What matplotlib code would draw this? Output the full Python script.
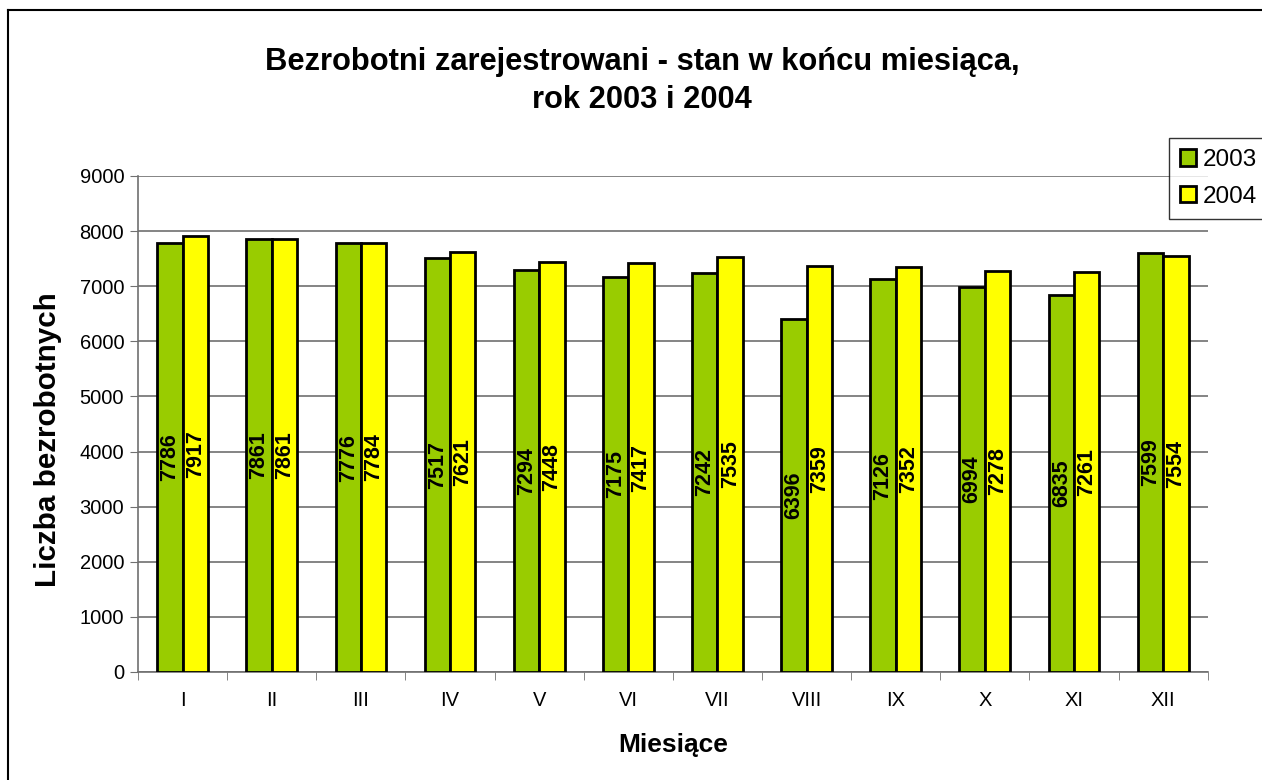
import numpy as np
import matplotlib
matplotlib.use('Agg')
import matplotlib.pyplot as plt
from matplotlib.lines import Line2D

months = ['I', 'II', 'III', 'IV', 'V', 'VI', 'VII', 'VIII', 'IX', 'X', 'XI', 'XII']
y2003 = [7786, 7861, 7776, 7517, 7294, 7175, 7242, 6396, 7126, 6994, 6835, 7599]
y2004 = [7917, 7861, 7784, 7621, 7448, 7417, 7535, 7359, 7352, 7278, 7261, 7554]

plt.rcParams['font.family'] = ['Liberation Sans', 'DejaVu Sans']

fig = plt.figure(figsize=(12.62, 7.8), dpi=100)
ax = fig.add_axes([0.1094, 0.1385, 0.8476, 0.6359])

x = np.arange(len(months))
w = 0.285
b1 = ax.bar(x - w / 2, y2003, w, color='#99CC00', edgecolor='black', linewidth=2.0, label='2003', zorder=3)
b2 = ax.bar(x + w / 2, y2004, w, color='#FFFF00', edgecolor='black', linewidth=2.0, label='2004', zorder=3)

# value labels, rotated, in the middle of each bar
for bars, vals in ((b1, y2003), (b2, y2004)):
    for r, v in zip(bars, vals):
        ax.text(r.get_x() + r.get_width() / 2, v / 2, str(v), rotation=90,
                ha='center', va='center', fontsize=15.5, fontweight='bold', zorder=4)

ax.set_xlim(-0.5, len(months) - 0.5)
ax.set_ylim(0, 9000)
ax.set_yticks(np.arange(0, 9001, 1000))
ax.yaxis.grid(True, color='#707070', linewidth=1.2, zorder=0)

ax.set_xticks(x)
ax.set_xticklabels(months, fontsize=14.5)
ax.set_xticks(np.arange(-0.5, len(months), 1), minor=True)
ax.tick_params(axis='x', which='major', length=0, pad=14)
ax.tick_params(axis='x', which='minor', length=6, color='#707070', direction='out')
ax.tick_params(axis='y', labelsize=14.5, length=6, color='#707070', pad=4)

for s in ('top', 'right'):
    ax.spines[s].set_visible(False)
for s in ('left', 'bottom'):
    ax.spines[s].set_color('#707070')
    ax.spines[s].set_linewidth(1.2)

ax.set_ylabel('Liczba bezrobotnych', fontsize=21.3, fontweight='bold')
ax.yaxis.set_label_coords(-0.071, 0.468)
ax.set_xlabel('Miesiące', fontsize=19, fontweight='bold', labelpad=16)

fig.suptitle('Bezrobotni zarejestrowani - stan w końcu miesiąca,\nrok 2003 i 2004',
             x=0.509, y=0.94, va='top', fontsize=22.2, fontweight='bold', linespacing=1.35)

leg = fig.legend(handles=[b1, b2], loc='upper left', bbox_to_anchor=(0.9263, 0.823),
                 fontsize=17.5, frameon=True, fancybox=False, edgecolor='black',
                 handlelength=0.65, handleheight=0.65, handletextpad=0.3,
                 borderpad=0.45, labelspacing=0.6, borderaxespad=0.0)
leg.get_frame().set_linewidth(1.0)

# outer chart border (only left and top edges are visible in the picture)
fig.add_artist(Line2D([8 / 1262, 8 / 1262], [-0.1, 1 - 10 / 780], transform=fig.transFigure,
                      color='black', linewidth=1.5))
fig.add_artist(Line2D([8 / 1262, 1.1], [1 - 10 / 780, 1 - 10 / 780], transform=fig.transFigure,
                      color='black', linewidth=1.5))

fig.savefig('out.png', dpi=100)
